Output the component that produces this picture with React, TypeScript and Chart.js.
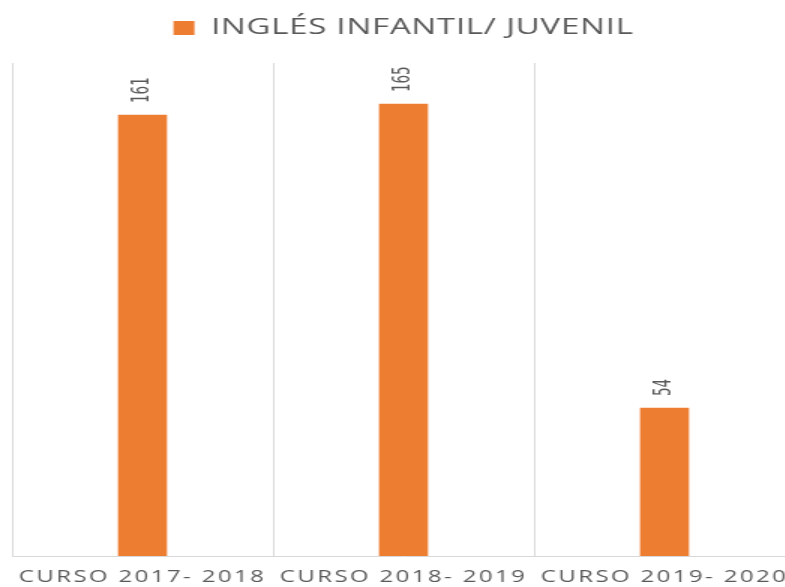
import React, { useEffect, useRef } from "react";
import { Chart, registerables } from "chart.js";

Chart.register(...registerables);

const categories = ["CURSO 2017- 2018", "CURSO 2018- 2019", "CURSO 2019- 2020"];
const seriesName = "INGLÉS INFANTIL/ JUVENIL";
const values = [161, 165, 54];
const yMax = 180;

const ORANGE = "#ED7D31";
const TEXT = "#595959";
const GRID = "#D9D9D9";

// The reference is a horizontally stretched chart: draw on a narrower canvas, stretch via CSS
const CANVAS_W = 530;
const CANVAS_H = 587;
const DISPLAY_W = 795;

const spacingPlugin = {
  id: "spacingAndLabels",
  beforeInit(chart: any) {
    const legend = chart.legend;
    if (legend) {
      const origFit = legend.fit;
      legend.fit = function fit() {
        origFit.call(legend);
        legend.height += 14;
      };
    }
  },
  beforeLayout(chart: any) {
    (chart.ctx as any).letterSpacing = "0.5px";
  },
  afterLayout(chart: any) {
    (chart.ctx as any).letterSpacing = "0px";
  },
  beforeDraw(chart: any) {
    (chart.ctx as any).letterSpacing = "0.5px";
  },
  afterDatasetsDraw(chart: any) {
    const ctx = chart.ctx;
    const meta = chart.getDatasetMeta(0);
    ctx.save();
    (ctx as any).letterSpacing = "0px";
    ctx.fillStyle = TEXT;
    ctx.font = "15px 'Liberation Sans Narrow', 'DejaVu Sans Condensed', sans-serif";
    ctx.textAlign = "left";
    ctx.textBaseline = "middle";
    meta.data.forEach((bar: any, i: number) => {
      ctx.save();
      ctx.translate(bar.x, bar.y - 12);
      ctx.rotate(-Math.PI / 2);
      ctx.fillText(String(values[i]), 0, 0);
      ctx.restore();
    });
    ctx.restore();
    (ctx as any).letterSpacing = "1.6px";
  },
  afterDraw(chart: any) {
    (chart.ctx as any).letterSpacing = "0px";
  },
};

export default function App() {
  const ref = useRef<HTMLCanvasElement | null>(null);
  useEffect(() => {
    document.body.style.margin = "0";
    document.body.style.overflow = "hidden";
    const chart = new Chart(ref.current as HTMLCanvasElement, {
      type: "bar",
      data: {
        labels: categories,
        datasets: [
          {
            label: seriesName,
            data: values,
            backgroundColor: ORANGE,
            borderWidth: 0,
            barThickness: 32,
          },
        ],
      },
      options: {
        animation: false,
        responsive: false,
        maintainAspectRatio: false,
        devicePixelRatio: 1,
        layout: { padding: { left: 8, right: 0, top: 3, bottom: 0 } },
        plugins: {
          legend: {
            display: true,
            position: "top",
            labels: {
              boxWidth: 14,
              boxHeight: 14,
              color: TEXT,
              padding: 14,
              font: { family: "'Open Sans', sans-serif", size: 22 },
            },
          },
          tooltip: { enabled: false },
        },
        scales: {
          x: {
            grid: {
              display: true,
              color: GRID,
              lineWidth: 1,
              drawTicks: false,
              offset: true,
            },
            border: { display: true, color: GRID },
            ticks: {
              z: 1,
              color: TEXT,
              padding: 12,
              maxRotation: 0,
              autoSkip: false,
              font: { family: "'Open Sans', sans-serif", size: 16 },
            },
            afterFit(scale: any) {
              scale.height = 31;
            },
          },
          y: {
            display: false,
            min: 0,
            max: yMax,
          },
        },
      },
      plugins: [spacingPlugin],
    });
    return () => chart.destroy();
  }, []);
  return (
    <div style={{ position: "fixed", left: 0, top: 0, width: DISPLAY_W, height: CANVAS_H }}>
      <canvas
        ref={ref}
        width={CANVAS_W}
        height={CANVAS_H}
        style={{ display: "block", width: DISPLAY_W + "px", height: CANVAS_H + "px" }}
      />
    </div>
  );
}
